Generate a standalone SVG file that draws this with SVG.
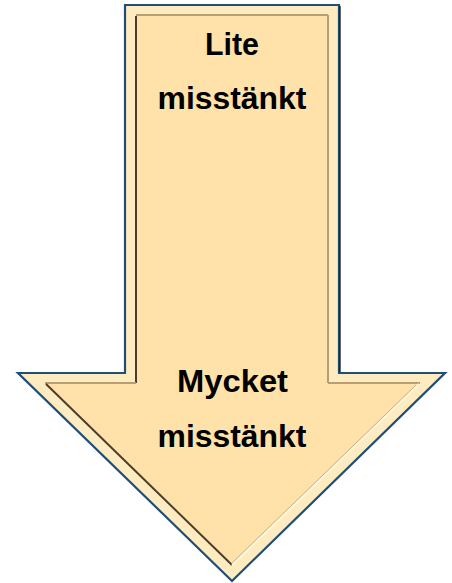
<svg xmlns="http://www.w3.org/2000/svg" width="452" height="583" viewBox="0 0 452 583">
  <style>
    .lbl { font-family: "Liberation Sans", Arial, sans-serif; font-weight: bold; font-size: 31px; fill: #000000; text-anchor: middle; }
    .outer { fill: #FFEBC0; stroke: #1F4E79; stroke-width: 2.2; stroke-linejoin: miter; }
    .inner { fill: #FFE2AA; stroke: none; }
    .dark { stroke: #4A3D2C; stroke-width: 2; fill: none; }
    .mid { stroke: #B89D72; stroke-width: 2; fill: none; }
    .light { stroke: #FFF6DE; stroke-width: 2; fill: none; }
  </style>
  <rect width="452" height="583" fill="#FFFFFF"/>
  <g id="arrow">
    <polygon class="outer" points="125,5 339,5 339,373 445,373 232,581 18,373 125,373"/>
    <polygon class="inner" points="136,15 328,15 328,383 420,383 232,565 45,383 136,383"/>
    <!-- bevel edges -->
    <polyline class="mid" points="136,15 328,15"/>
    <polyline class="mid" points="328,15 328,383"/>
    <polyline class="dark" points="136,16 136,383"/>
    <polyline class="mid" points="45,383 136,383"/>
    <polyline class="mid" points="328,383 420,383"/>
    <polyline class="dark" points="46,384 232,565"/>
    <polyline class="light" points="419,384 232,565"/>
    <polyline stroke="#C9AE82" stroke-width="1" fill="none" points="416,385 232,563"/>
    <polyline stroke="#111111" stroke-width="1.2" fill="none" points="340,6 340,372"/>
  </g>
  <g id="label-top">
    <text class="lbl" x="232" y="55" textLength="54" lengthAdjust="spacingAndGlyphs">Lite</text>
    <text class="lbl" x="232" y="109" textLength="149" lengthAdjust="spacingAndGlyphs">misstänkt</text>
  </g>
  <g id="label-bottom">
    <text class="lbl" x="232.5" y="392" textLength="111" lengthAdjust="spacingAndGlyphs">Mycket</text>
    <text class="lbl" x="232" y="447" textLength="149" lengthAdjust="spacingAndGlyphs">misstänkt</text>
  </g>
</svg>
